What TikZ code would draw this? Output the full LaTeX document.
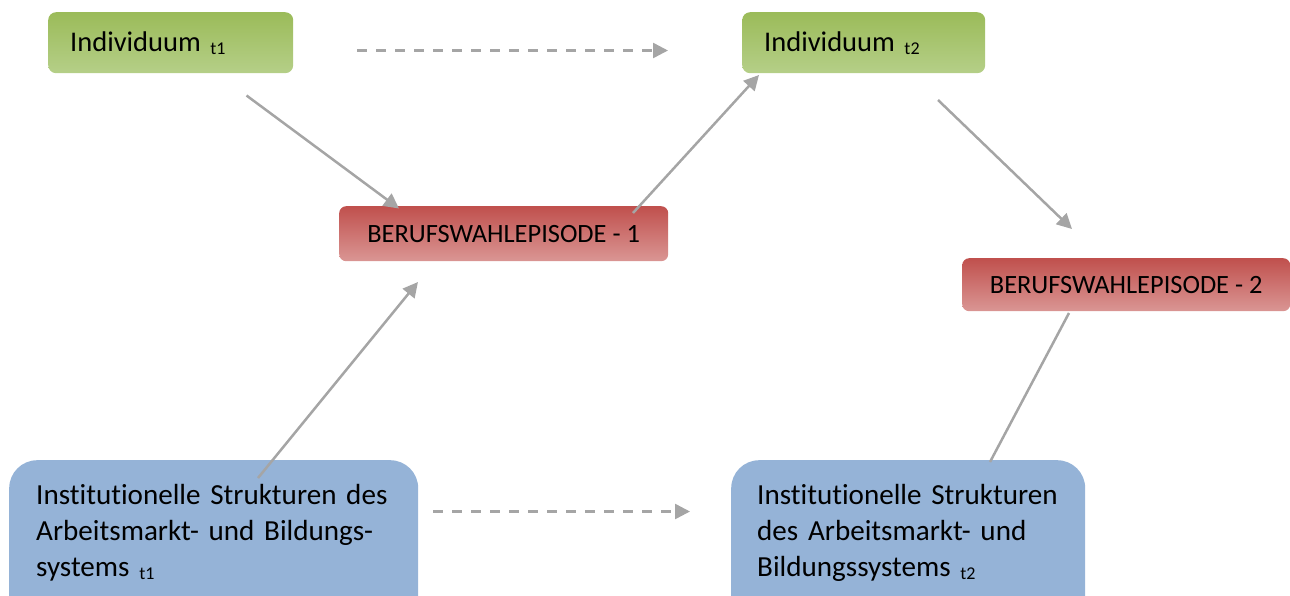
\documentclass[tikz,border=0pt]{standalone}
\usepackage{fontspec}
\setmainfont{Carlito}[Ligatures={NoCommon}, RawFeature={-liga}]
\usetikzlibrary{arrows.meta}
\definecolor{grtop}{HTML}{9BBB59}
\definecolor{grbot}{HTML}{B5CF88}
\definecolor{rdtop}{HTML}{C0504D}
\definecolor{rdbot}{HTML}{DA9694}
\definecolor{blfill}{HTML}{95B3D7}
\definecolor{arrgray}{HTML}{A5A5A5}
\newcommand{\subidx}[1]{{\fontsize{18}{18}\selectfont\raisebox{-3pt}{#1}}}
\begin{document}
\begin{tikzpicture}[x=1pt,y=-1pt,
  greenbox/.style={rectangle, rounded corners=8pt, top color=grtop, bottom color=grbot, draw=none,
    anchor=north west, minimum height=61pt, inner xsep=22pt, inner ysep=0pt, text width=201pt, align=left,
    font=\fontsize{28.5}{34}\selectfont},
  redbox/.style={rectangle, rounded corners=7pt, top color=rdtop, bottom color=rdbot, draw=none,
    anchor=north west, inner sep=0pt, align=center, font=\fontsize{26.4}{32}\selectfont},
  bluebox/.style={rectangle, rounded corners=28pt, fill=blfill, draw=none, anchor=north west,
    minimum height=170pt, inner sep=0pt},
  bluetext/.style={anchor=base west, inner sep=0pt, text width=390pt, align=left,
    font=\fontsize{29.1}{36.2}\selectfont},
  conn/.style={draw=arrgray, line width=2.5pt, -{Triangle[length=15pt,width=15pt]}},
  dconn/.style={conn, dash pattern=on 10pt off 9pt},
  plain/.style={draw=arrgray, line width=2.5pt}
]
\useasboundingbox (0,0) rectangle (1290,595);
\clip (0,0) rectangle (1290,595);

% nodes
\node[greenbox, minimum width=245pt] (ind1) at (48,12) {Individuum \subidx{t1}};
\node[greenbox, minimum width=243pt, text width=199pt] (ind2) at (742,12) {Individuum \subidx{t2}};
\node[redbox, minimum width=329pt, minimum height=55pt] (epi1) at (339,206) {BERUFSWAHLEPISODE - 1};
\node[redbox, minimum width=328pt, minimum height=53pt] (epi2) at (962,258) {BERUFSWAHLEPISODE - 2};
\node[bluebox, minimum width=409pt] (inst1) at (9,460) {};
\node[bluebox, minimum width=354pt] (inst2) at (731,460) {};
\node[bluetext] (inst1t) at (36,504) {Institutionelle Strukturen des\\Arbeitsmarkt- und Bildungs-\\systems \subidx{t1}};
\node[bluetext] (inst2t) at (757,504) {Institutionelle Strukturen\\des Arbeitsmarkt- und\\Bildungssystems \subidx{t2}};

% connector end points
\coordinate (d1s) at (357,50.5);
\coordinate (d1e) at (668,50.5);
\coordinate (d2s) at (433,511.5);
\coordinate (d2e) at (690,511.5);
\coordinate (a1s) at (246.5,95.5);
\coordinate (a1e) at (399,208.5);
\coordinate (a2s) at (633,213);
\coordinate (a2e) at (759,75);
\coordinate (a3s) at (938,100);
\coordinate (a3e) at (1072,229);
\coordinate (a4s) at (258,478);
\coordinate (a4e) at (418,282);
\coordinate (l5s) at (990,462);
\coordinate (l5e) at (1069,313);

% connectors
\draw[dconn] (d1s) -- (d1e);
\draw[dconn] (d2s) -- (d2e);
\draw[conn] (a1s) -- (a1e);
\draw[conn] (a2s) -- (a2e);
\draw[conn] (a3s) -- (a3e);
\draw[conn] (a4s) -- (a4e);
\draw[plain] (l5s) -- (l5e);
\end{tikzpicture}
\end{document}
